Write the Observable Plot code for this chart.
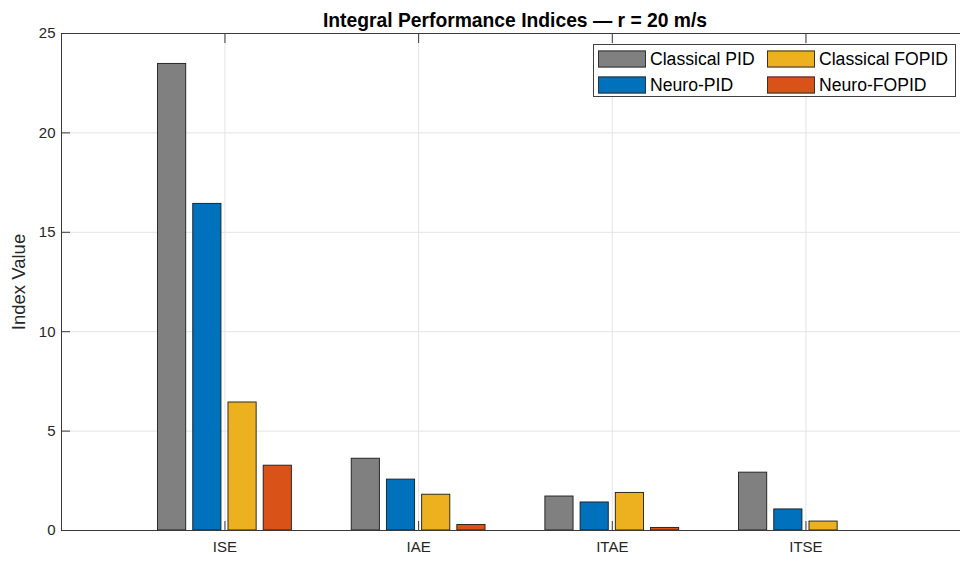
<!DOCTYPE html>
<html><head><meta charset="utf-8">
<script src="https://cdn.jsdelivr.net/npm/d3@7"></script>
<script src="https://cdn.jsdelivr.net/npm/@observablehq/plot@0.6"></script>
<style>
body{margin:0;background:#fff;}
#wrap{position:relative;width:960px;height:561px;font-family:"Liberation Sans",Arial,sans-serif;}
#legend{position:absolute;left:593px;top:44px;width:363px;height:53px;border:1px solid #404040;background:#fff;box-sizing:border-box;}
.item{position:absolute;display:flex;align-items:center;font-size:17.6px;color:#000;white-space:nowrap;transform:translateY(-50%);}
.sw{width:48px;height:17px;box-sizing:border-box;border:1px solid #333;margin-right:4px;}
</style></head><body><div id="wrap"><div id="legend"></div></div>
<script>
const categories = ["ISE", "IAE", "ITAE", "ITSE"];
const seriesNames = ["Classical PID", "Neuro-PID", "Classical FOPID", "Neuro-FOPID"];
const classicalPID = [23.47, 3.61, 1.71, 2.91];
const neuroPID = [16.43, 2.56, 1.41, 1.06];
const classicalFOPID = [6.44, 1.80, 1.89, 0.45];
const neuroFOPID = [3.26, 0.28, 0.13, 0];
const seriesColors = ["#808080", "#0072BD", "#EDB120", "#D95319"];
const yTicks = [0, 5, 10, 15, 20, 25];
const titleText = "Integral Performance Indices — r = 20 m/s";
const yLabel = "Index Value";

const values = [classicalPID, neuroPID, classicalFOPID, neuroFOPID];
const nS = seriesNames.length;
const groupWidth = Math.min(0.8, nS / (nS + 1.5));
const pitch = groupWidth / nS;
const barW = pitch * 0.8;
const rows = [];
values.forEach((vals, s) => vals.forEach((v, i) => {
  const c = i + 1 + (s - (nS - 1) / 2) * pitch;
  rows.push({category: categories[i], series: seriesNames[s], x1: c - barW / 2, x2: c + barW / 2, value: v});
}));
const xIdx = categories.map((d, i) => i + 1);
const xDomain = [0.156, 4.798];
const axisColor = "#3a3a3a";

const chart = Plot.plot({
  width: 960, height: 561,
  marginLeft: 61, marginRight: 0, marginTop: 33, marginBottom: 31,
  style: {fontFamily: '"Liberation Sans", Arial, sans-serif', color: "#262626", background: "#fff"},
  x: {type: "linear", domain: xDomain},
  y: {domain: [0, 25]},
  color: {domain: seriesNames, range: seriesColors},
  marks: [
    Plot.gridY(yTicks, {stroke: "#e4e4e4", strokeOpacity: 1}),
    Plot.gridX(xIdx, {stroke: "#e4e4e4", strokeOpacity: 1}),
    Plot.rectY(rows, {x1: "x1", x2: "x2", y: "value", fill: "series", stroke: "#1a1a1a", strokeWidth: 0.9}),
    Plot.ruleY([0], {stroke: axisColor}),
    Plot.ruleY([25], {stroke: axisColor}),
    Plot.ruleX([xDomain[0]], {stroke: axisColor}),
    Plot.axisY(yTicks, {tickSize: 9, dx: 9, tickFormat: () => "", label: null, stroke: axisColor}),
    Plot.axisY(yTicks, {tickSize: 0, tickPadding: 6, label: null, fontSize: 15, fill: "#262626"}),
    Plot.axisX(xIdx, {anchor: "top", tickSize: 9, dy: 9, tickFormat: () => "", label: null, stroke: axisColor}),
    Plot.axisX(xIdx, {anchor: "bottom", tickSize: 9, dy: -9, tickFormat: () => "", label: null, stroke: axisColor}),
    Plot.axisX(xIdx, {anchor: "bottom", tickSize: 0, tickPadding: 11, tickFormat: i => categories[i - 1], label: null, fontSize: 15, fill: "#262626"}),
    Plot.text([yLabel], {frameAnchor: "left", textAnchor: "middle", rotate: -90, dx: -42, fontSize: 18.5, fill: "#262626", lineAnchor: "middle"}),
    Plot.text([titleText], {frameAnchor: "top", dy: -13, dx: 4, fontWeight: "bold", fontSize: 19.3, fill: "#000", lineAnchor: "middle"})
  ]
});
const wrap = document.getElementById("wrap");
wrap.insertBefore(chart, wrap.firstChild);

const legend = document.getElementById("legend");
const colLeft = [4, 173];
const rowMid = [13.6, 40];
seriesNames.forEach((name, k) => {
  const item = document.createElement("div");
  item.className = "item";
  item.style.left = colLeft[Math.floor(k / 2)] + "px";
  item.style.top = rowMid[k % 2] + "px";
  const sw = document.createElement("div");
  sw.className = "sw";
  sw.style.background = seriesColors[k];
  const t = document.createElement("span");
  t.textContent = name;
  item.appendChild(sw); item.appendChild(t);
  legend.appendChild(item);
});
</script></body></html>
